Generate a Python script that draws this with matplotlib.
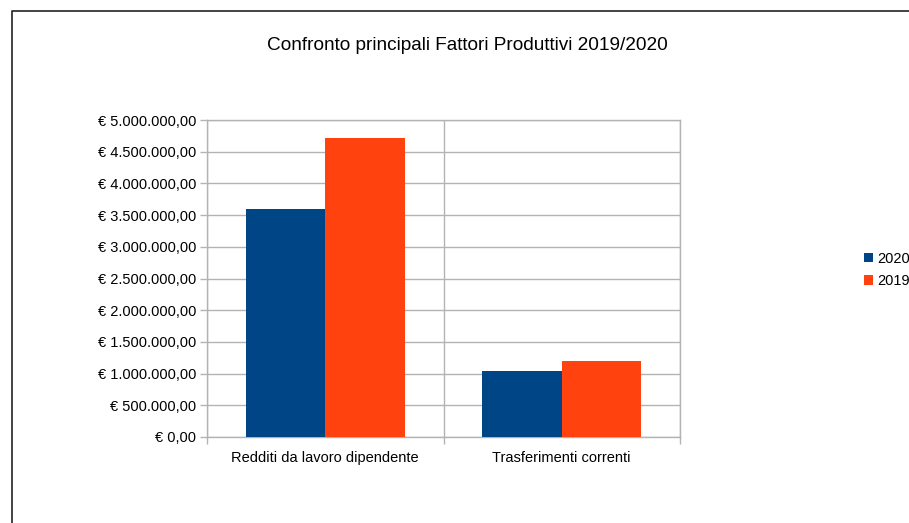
import numpy as np
import matplotlib.pyplot as plt
from matplotlib.lines import Line2D
from matplotlib.ticker import FuncFormatter, MultipleLocator

#Data
categories = ['Redditi da lavoro dipendente', 'Trasferimenti correnti']
series_names = ['2020', '2019']
values_2020 = [3600000, 1040000]
values_2019 = [4715000, 1195000]
colors = ['#004586', '#ff420e']

plt.rcParams['font.family'] = ['Liberation Sans', 'DejaVu Sans']

def euro(v, pos):
    s = '{:,.2f}'.format(v).replace(',', 'X').replace('.', ',').replace('X', '.')
    return '€ ' + s

fig = plt.figure(figsize=(9.09, 5.23), dpi=100)
ax = fig.add_axes([207/909, 86/523, 473/909, 317/523])

x = np.arange(len(categories))
w = 0.336
ax.bar(x - w/2, values_2020, w, color=colors[0], label=series_names[0], zorder=3)
ax.bar(x + w/2, values_2019, w, color=colors[1], label=series_names[1], zorder=3)

ax.set_xlim(-0.5, len(categories) - 0.5)
ax.set_ylim(0, 5000000)
ax.yaxis.set_major_locator(MultipleLocator(500000))
ax.yaxis.set_major_formatter(FuncFormatter(euro))

ax.set_xticks(x)
ax.set_xticklabels(categories)
ax.set_xticks(np.arange(-0.5, len(categories)), minor=True)
ax.tick_params(axis='x', which='major', length=0, pad=10, labelsize=10.5)
ax.tick_params(axis='x', which='minor', length=5, color='#b3b3b3', width=1)
ax.tick_params(axis='y', length=5, color='#b3b3b3', width=1, labelsize=10.5, pad=3)

ax.grid(axis='y', color='#b3b3b3', linewidth=1, zorder=0)
ax.grid(axis='x', which='minor', color='#b3b3b3', linewidth=1, zorder=0)
for s in ax.spines.values():
    s.set_color('#b3b3b3')
    s.set_linewidth(1)

fig.text(467/909, 1 - 46/523, 'Confronto principali Fattori Produttivi 2019/2020',
         ha='center', va='center', fontsize=13.7)

fig.legend(loc='center left', bbox_to_anchor=(864/909, 1 - 270/523), frameon=False,
           fontsize=10.5, handlelength=0.6, handleheight=0.6, handletextpad=0.3,
           labelspacing=0.55, borderaxespad=0, borderpad=0)

#Frame lines
fig.add_artist(Line2D([12/909, 12/909, 1], [0, 1 - 11/523, 1 - 11/523],
                      transform=fig.transFigure, color='#222222', linewidth=1.2))

fig.savefig('out.png', dpi=100)
